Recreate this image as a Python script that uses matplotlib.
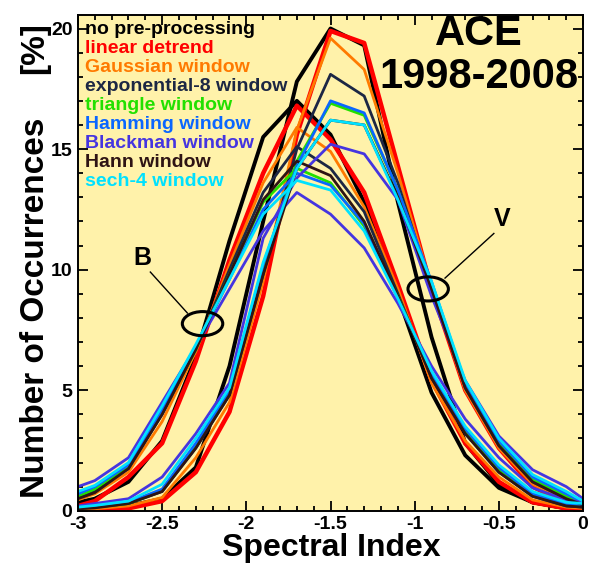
import numpy as np
import matplotlib
matplotlib.use('Agg')
import matplotlib.pyplot as plt
from matplotlib.patches import Ellipse
from matplotlib.ticker import MultipleLocator

plt.rcParams['font.family'] = ['Liberation Sans', 'DejaVu Sans']
plt.rcParams['font.weight'] = 'bold'

# histogram bin positions (spectral index)
spectral_index = [-3.0, -2.9, -2.7, -2.5, -2.3, -2.1, -1.9, -1.7, -1.5,
                  -1.3, -1.1, -0.9, -0.7, -0.5, -0.3, -0.1, 0.0]

window_names = ['no pre-processing', 'linear detrend', 'Gaussian window',
                'exponential-8 window', 'triangle window', 'Hamming window',
                'Blackman window', 'Hann window', 'sech-4 window']

x_ticks = [-3, -2.5, -2, -1.5, -1, -0.5, 0]
x_tick_labels = ['-3', '-2.5', '-2', '-1.5', '-1', '-0.5', '0']
y_ticks = [0, 5, 10, 15, 20]
y_tick_labels = ['0', '5', '10', '15', '20']

# magnetic field (B) distributions, % occurrences
b_none = [0.35, 0.5, 1.2, 2.9, 6.4, 11.2, 15.5, 17.0, 15.6, 12.8, 8.9, 4.9, 2.3, 0.95, 0.35, 0.1, 0.05]
b_detrend = [0.2, 0.4, 1.4, 2.8, 6.2, 10.4, 14.0, 16.8, 15.4, 13.2, 9.4, 5.4, 2.8, 1.2, 0.35, 0.1, 0.05]
b_gauss = [0.45, 0.7, 1.6, 3.7, 6.6, 10.2, 13.6, 15.9, 14.9, 12.6, 9.2, 5.3, 2.9, 1.4, 0.45, 0.15, 0.1]
b_exp8 = [0.55, 0.8, 1.75, 4.0, 6.7, 10.0, 13.2, 15.1, 14.2, 12.4, 9.0, 5.5, 3.2, 1.6, 0.6, 0.2, 0.15]
b_triangle = [0.6, 0.9, 1.85, 4.1, 6.7, 9.8, 12.8, 14.2, 13.6, 11.8, 8.9, 5.6, 3.3, 1.7, 0.65, 0.25, 0.2]
b_hamming = [0.7, 1.0, 1.9, 4.2, 6.8, 9.6, 12.5, 14.0, 13.5, 11.9, 8.8, 5.7, 3.4, 1.8, 0.7, 0.3, 0.25]
b_blackman = [1.0, 1.25, 2.2, 4.5, 6.8, 9.2, 11.6, 13.2, 12.3, 10.9, 8.6, 6.0, 3.8, 2.2, 0.95, 0.45, 0.35]
b_hann = [0.5, 0.75, 1.75, 4.0, 6.7, 9.8, 12.9, 14.5, 13.9, 12.0, 8.9, 5.5, 3.2, 1.6, 0.6, 0.2, 0.15]
b_sech4 = [0.8, 1.05, 2.0, 4.35, 6.9, 9.6, 12.3, 13.7, 13.3, 11.6, 8.8, 5.8, 3.5, 1.9, 0.8, 0.35, 0.3]

# solar wind velocity (V) distributions, % occurrences
v_none = [0.05, 0.08, 0.2, 0.5, 1.8, 6.0, 12.0, 17.8, 20.0, 19.3, 12.8, 7.2, 2.8, 1.1, 0.35, 0.1, 0.05]
v_detrend = [0.0, 0.02, 0.1, 0.4, 1.6, 4.1, 8.9, 15.6, 19.9, 19.4, 14.3, 9.2, 5.0, 2.6, 1.0, 0.3, 0.05]
v_gauss = [0.05, 0.08, 0.2, 0.55, 2.2, 4.5, 9.5, 15.8, 19.6, 18.3, 14.0, 9.3, 5.0, 2.6, 1.1, 0.4, 0.15]
v_exp8 = [0.1, 0.15, 0.3, 0.8, 2.6, 4.8, 9.8, 15.0, 18.1, 17.2, 13.6, 9.2, 5.1, 2.7, 1.2, 0.5, 0.25]
v_triangle = [0.1, 0.15, 0.3, 0.85, 2.7, 4.9, 10.0, 14.5, 16.9, 16.4, 13.3, 9.4, 5.2, 2.8, 1.3, 0.6, 0.3]
v_hamming = [0.1, 0.18, 0.35, 0.9, 2.8, 5.0, 10.2, 14.3, 17.0, 16.5, 13.3, 9.5, 5.3, 2.9, 1.4, 0.7, 0.35]
v_blackman = [0.2, 0.3, 0.5, 1.4, 3.2, 5.3, 11.3, 13.8, 15.2, 14.8, 12.9, 8.9, 5.4, 3.1, 1.7, 1.0, 0.5]
v_hann = [0.08, 0.12, 0.3, 0.8, 2.6, 4.8, 9.8, 14.2, 16.2, 16.0, 13.0, 9.2, 5.1, 2.7, 1.2, 0.5, 0.25]
v_sech4 = [0.15, 0.22, 0.4, 1.1, 3.0, 5.1, 10.3, 14.2, 16.2, 16.0, 12.9, 9.5, 5.4, 3.0, 1.5, 0.8, 0.4]

b_series = [b_none, b_detrend, b_gauss, b_exp8, b_triangle, b_hamming, b_blackman, b_hann, b_sech4]
v_series = [v_none, v_detrend, v_gauss, v_exp8, v_triangle, v_hamming, v_blackman, v_hann, v_sech4]

colors = ['#000000', '#FF0000', '#FF7A00', '#1C2744', '#22E000',
          '#0A66FF', '#4535E0', '#2E1414', '#00E1FF']
widths = [2.8, 3.2, 2.0, 2.0, 2.0, 2.0, 2.0, 2.0, 2.0]

fig = plt.figure(figsize=(5.95, 5.65), dpi=100)
ax = fig.add_axes([0.131, 0.096, 0.849, 0.877])
ax.set_facecolor('#FFF2AA')

for b, v, c, lw in zip(b_series, v_series, colors, widths):
    ax.plot(spectral_index, b, color=c, lw=lw, solid_joinstyle='round')
    ax.plot(spectral_index, v, color=c, lw=lw, solid_joinstyle='round')

ax.set_xlim(-3, 0)
ax.set_ylim(0, 20.55)
ax.set_xticks(x_ticks)
ax.set_xticklabels(x_tick_labels)
ax.set_yticks(y_ticks)
ax.set_yticklabels(y_tick_labels)
ax.xaxis.set_minor_locator(MultipleLocator(0.1))
ax.yaxis.set_minor_locator(MultipleLocator(1))
ax.tick_params(which='both', direction='in', top=True, right=True, width=1.3)
ax.tick_params(which='major', length=7, labelsize=14, pad=4)
ax.tick_params(which='minor', length=3.5)
for s in ax.spines.values():
    s.set_linewidth(1.4)

fig.text(0.556, 0.030, 'Spectral Index', fontsize=23, fontweight='bold',
         ha='center', va='center')
fig.text(0.059, 0.455, 'Number of Occurrences', rotation=90, fontsize=24,
         fontweight='bold', ha='center', va='center')
fig.text(0.059, 0.915, '[%]', rotation=90, fontsize=24,
         fontweight='bold', ha='center', va='center')

# legend as coloured text
for i, (name, c) in enumerate(zip(window_names, colors)):
    ax.text(0.014, 0.962 - i * 0.0382, name, color=c, fontsize=14,
            fontweight='bold', transform=ax.transAxes, ha='left', va='baseline')

ax.text(-0.62, 19.3, 'ACE', fontsize=30, fontweight='bold', ha='center', va='baseline')
ax.text(-0.62, 17.55, '1998-2008', fontsize=30, fontweight='bold', ha='center', va='baseline')

# B and V markers
ax.add_patch(Ellipse((-2.26, 7.76), 0.24, 1.0, fill=False, ec='black', lw=2.2, zorder=5))
ax.plot([-2.57, -2.35], [9.9, 8.2], color='black', lw=1.0, zorder=5)
ax.text(-2.62, 10.5, 'B', fontsize=18, fontweight='bold', ha='center', va='center')

ax.add_patch(Ellipse((-0.92, 9.2), 0.24, 1.0, fill=False, ec='black', lw=2.2, zorder=5))
ax.plot([-0.53, -0.82], [11.5, 9.65], color='black', lw=1.0, zorder=5)
ax.text(-0.48, 12.1, 'V', fontsize=18, fontweight='bold', ha='center', va='center')

fig.savefig('out.png', dpi=100)
